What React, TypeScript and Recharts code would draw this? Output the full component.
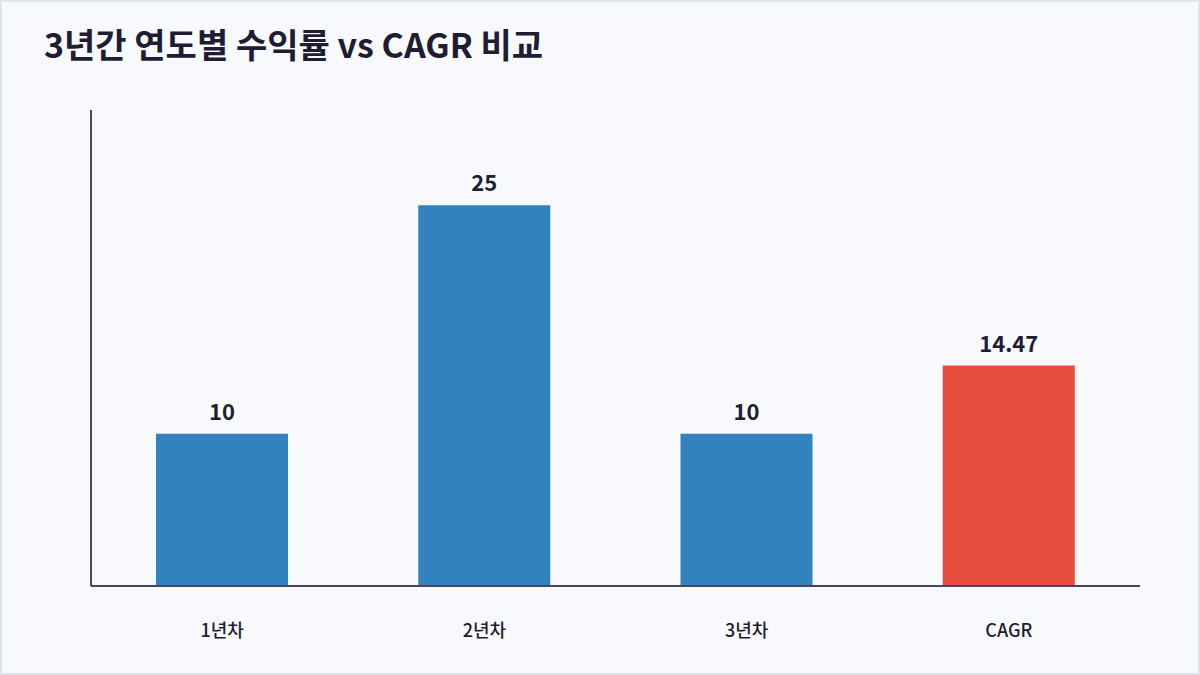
import React from "react";
import { BarChart, Bar, XAxis, YAxis, Cell, LabelList } from "recharts";

const categories = ["1년차", "2년차", "3년차", "CAGR"];
const returns = [10, 25, 10, 14.47];
const barColors = ["#3182bd", "#3182bd", "#3182bd", "#e74c3c"];
const yMax = 31.25;

const data = categories.map((name, i) => ({ name, value: returns[i] }));

const FONT = "'Noto Sans CJK KR', 'Noto Sans', sans-serif";
const INK = "#1f1d33";
const AXIS = "#4a4563";

export default function App() {
  return (
    <div
      style={{
        position: "fixed",
        left: 0,
        top: 0,
        width: 1200,
        height: 675,
        boxSizing: "border-box",
        border: "2px solid #dfe5ee",
        background: "#f7f9fd",
        fontFamily: FONT,
        overflow: "hidden",
      }}
    >
      <div
        style={{
          position: "absolute",
          left: 42,
          top: 18,
          fontSize: 34,
          fontWeight: 700,
          color: INK,
          letterSpacing: 0,
          lineHeight: "48px",
          whiteSpace: "nowrap",
        }}
      >
        3년간 연도별 수익률 vs CAGR 비교
      </div>
      <div style={{ position: "absolute", left: -2, top: -2 }}>
        <BarChart
          width={1200}
          height={675}
          data={data}
          margin={{ top: 110, right: 60, bottom: 49, left: 90 }}
        >
          <XAxis
            dataKey="name"
            height={40}
            tickLine={false}
            axisLine={{ stroke: AXIS, strokeWidth: 2 }}
            tickMargin={32}
            tick={{ fill: INK, fontSize: 18, fontFamily: FONT, fontWeight: 500 }}
          />
          <YAxis
            width={1}
            domain={[0, yMax]}
            tick={false}
            tickLine={false}
            axisLine={{ stroke: AXIS, strokeWidth: 2 }}
          />
          <Bar dataKey="value" barSize={132} isAnimationActive={false}>
            {data.map((d, i) => (
              <Cell key={d.name} fill={barColors[i]} />
            ))}
            <LabelList
              dataKey="value"
              position="top"
              offset={14}
              style={{ fill: INK, fontSize: 22, fontWeight: 700, fontFamily: FONT }}
            />
          </Bar>
        </BarChart>
      </div>
    </div>
  );
}
